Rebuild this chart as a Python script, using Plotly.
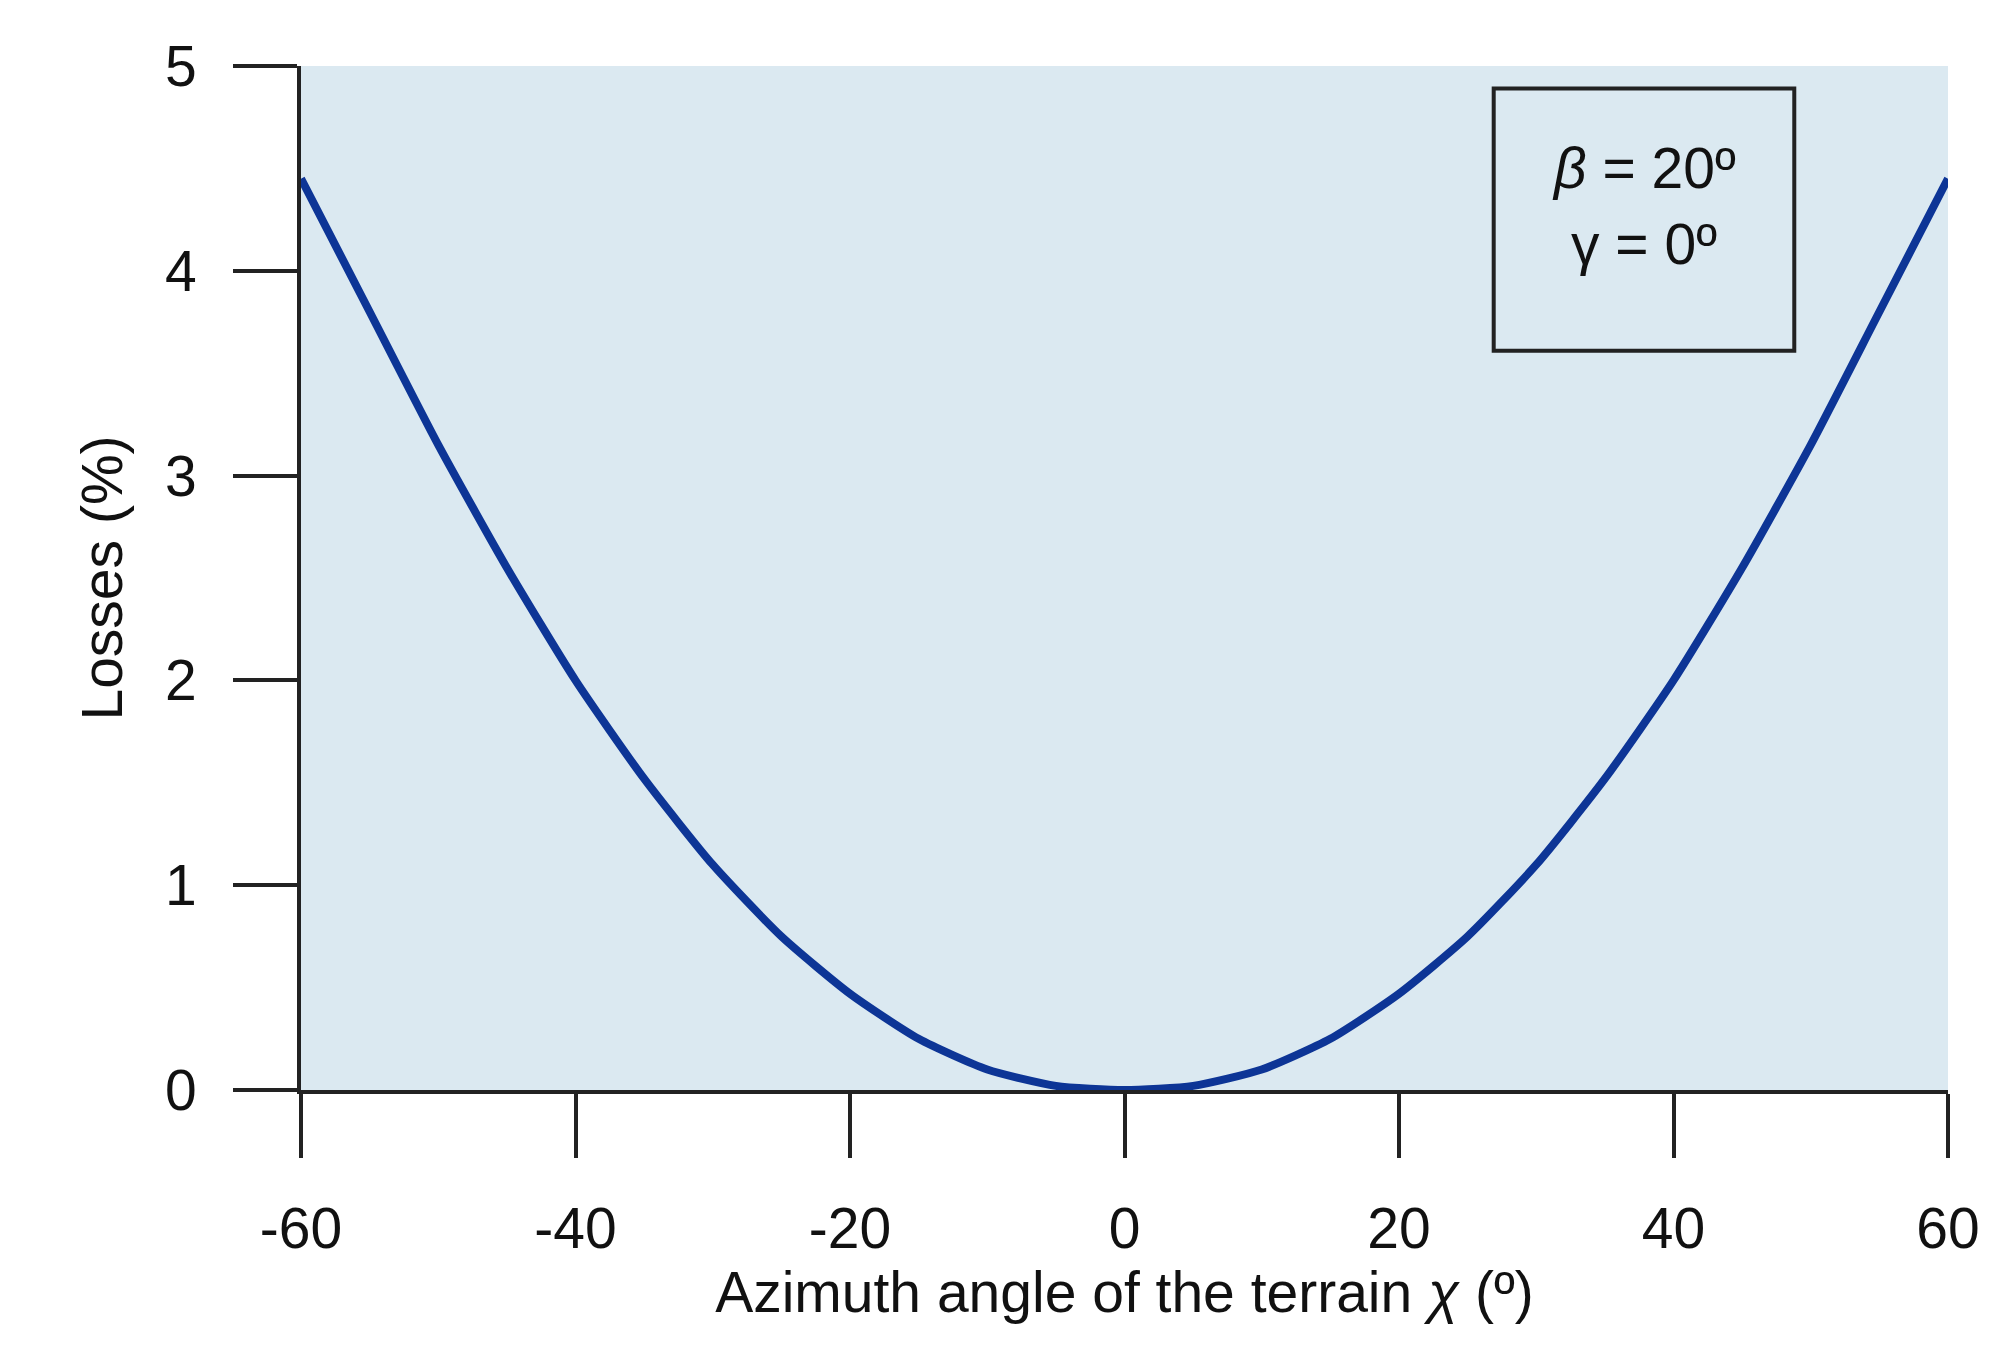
import plotly.graph_objects as go

x_vals = [-60, -55, -50, -45, -40, -35, -30, -25, -20, -15, -10, -5, 0, 5, 10, 15, 20, 25, 30, 35, 40, 45, 50, 55, 60]
losses = [4.45, 3.8, 3.15, 2.55, 2.0, 1.52, 1.1, 0.75, 0.47, 0.25, 0.1, 0.02, 0.0,
          0.02, 0.1, 0.25, 0.47, 0.75, 1.1, 1.52, 2.0, 2.55, 3.15, 3.8, 4.45]
x_ticks = [-60, -40, -20, 0, 20, 40, 60]
x_labels = ["-60", "-40", "-20", "0", "20", "40", "60"]
y_ticks = [0, 1, 2, 3, 4, 5]

fig = go.Figure(go.Scatter(x=x_vals, y=losses, mode="lines", line=dict(color="#0d3596", width=8, shape="spline", smoothing=0.6)))
font = dict(family="Liberation Sans, Arial", size=57, color="#111")
fig.update_layout(
    width=2003, height=1367, margin=dict(l=293, r=63, t=58, b=285),
    paper_bgcolor="white", plot_bgcolor="#dbe9f1", showlegend=False, font=font,
    xaxis=dict(range=[-60, 60], tickvals=x_ticks, ticktext=x_labels, showgrid=False, zeroline=False, showline=True,
               linecolor="#222", linewidth=4, ticks="outside", ticklen=64, tickwidth=4, tickcolor="#222",
               ticklabelstandoff=22,
               title=dict(text="Azimuth angle of the terrain <i>χ</i> (º)", font=font, standoff=5)),
    yaxis=dict(range=[0, 5], tickvals=y_ticks, showgrid=False, zeroline=False, showline=True,
               linecolor="#222", linewidth=4, ticks="outside", ticklen=64, tickwidth=4, tickcolor="#222",
               ticklabelstandoff=25,
               title=dict(text="Losses (%)", font=font, standoff=25)),
)
fig.add_shape(type="rect", xref="x", yref="y", x0=26.9, x1=48.8, y0=3.61, y1=4.89,
              line=dict(color="#222", width=4), fillcolor="rgba(0,0,0,0)")
fig.add_annotation(x=37.85, y=4.5, xref="x", yref="y", text="<i>β</i> = 20º", showarrow=False, font=font)
fig.add_annotation(x=37.85, y=4.13, xref="x", yref="y", text="γ = 0º", showarrow=False, font=font)
fig.write_html("out.html")
